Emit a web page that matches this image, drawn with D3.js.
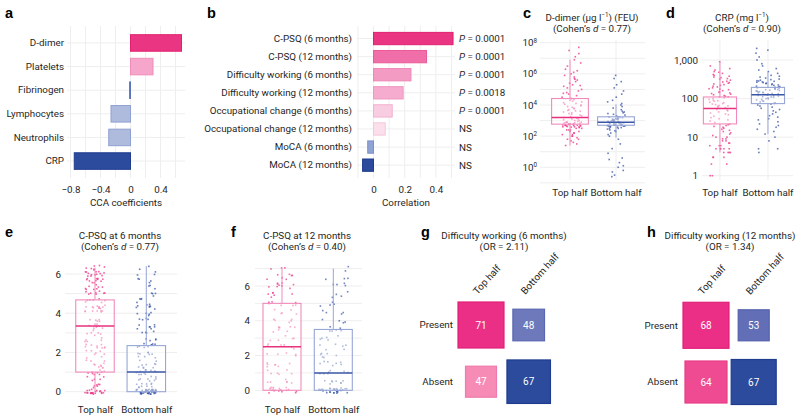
<!DOCTYPE html>
<html><head><meta charset="utf-8">
<script src="https://cdn.jsdelivr.net/npm/d3@7"></script>
<style>
body{margin:0;background:#fff}
svg{font-family:Roboto,"Noto Sans",sans-serif}
</style></head><body>
<svg id="chart" width="800" height="420"></svg>
<script>
// ---------------- DATA ----------------
const ccaCategories = ["D-dimer","Platelets","Fibrinogen","Lymphocytes","Neutrophils","CRP"];
const ccaValues = [0.68, 0.30, -0.012, -0.26, -0.29, -0.75];
const ccaTicks = [-0.8, -0.4, 0, 0.4];

const corrCategories = ["C-PSQ (6 months)","C-PSQ (12 months)","Difficulty working (6 months)","Difficulty working (12 months)","Occupational change (6 months)","Occupational change (12 months)","MoCA (6 months)","MoCA (12 months)"];
const corrValues = [0.51, 0.34, 0.24, 0.19, 0.12, 0.075, -0.037, -0.07];
const corrPValues = ["0.0001","0.0001","0.0001","0.0018","0.0001","NS","NS","NS"];
const corrTicks = [0, 0.2, 0.4];

const groups = ["Top half","Bottom half"];

// D-dimer (µg l−1), given as log10 exponents
const dDimerTopExp = [1.4,1.5,1.6,1.7,1.8,1.8,1.9,2.0,2.0,2.1,2.1,2.2,2.2,2.3,2.3,2.4,2.4,2.4,
 2.5,2.5,2.55,2.6,2.6,2.6,2.65,2.65,2.7,2.7,2.7,2.7,2.75,2.75,2.8,2.8,2.8,2.85,2.85,2.9,2.9,2.9,2.95,3.0,3.0,3.05,3.1,3.1,3.15,3.2,
 3.25,3.3,3.35,3.4,3.45,3.5,3.55,3.6,3.65,3.7,3.75,3.8,3.85,3.9,3.95,4.0,4.05,4.1,4.15,4.2,4.25,4.3,4.35,4.4,4.42,
 4.5,4.6,4.7,4.8,4.9,5.0,5.1,5.2,5.3,5.4,5.5,5.6,5.7,5.8,5.9,6.0,6.1,6.3,6.5,6.7,6.9,7.1,7.3,7.5,7.7,
 2.58,2.62,2.68,2.72,2.78,2.82,2.88,5.25,5.65,6.2,4.75,3.62];
const dDimerBottomExp = [-0.6,-0.5,-0.3,-0.2,0,0.1,0.3,0.5,0.6,0.9,1.2,1.5,1.8,2.0,2.1,2.2,2.3,2.35,
 2.4,2.45,2.5,2.5,2.55,2.6,2.6,2.65,2.65,2.7,2.7,2.72,2.75,2.75,2.78,2.8,2.8,2.82,2.85,2.85,2.87,2.88,2.9,2.9,
 2.92,2.95,2.97,3.0,3.0,3.02,3.05,3.08,3.1,3.1,3.12,3.15,3.18,3.2,3.22,3.24,
 3.3,3.35,3.4,3.45,3.5,3.55,3.6,3.7,3.8,3.9,4.0,4.1,4.2,4.3,4.5,4.7,4.9,5.1,5.3,5.5,5.7,5.9,
 2.68,2.74,2.84,2.94,3.04,2.58,2.64,3.14];
const dDimerTopBox = [590, 1580, 26000, 25, 8e6];      // q1, median, q3, whisker low, whisker high
const dDimerBottomBox = [500, 790, 1750, 80, 1.1e4];

// CRP (mg l−1)
const crpTop = [1,1,2,2,3,3,3,4,4,4,4,5,5,5,5,5,6,6,6,7,7,8,8,9,9,10,10,11,12,13,14,15,16,17,18,19,20,21,22,24,26,28,30,32,35,38,40,42,45,48,50,52,
 58,60,63,66,70,74,78,80,85,90,95,100,105,110,120,130,140,150,160,170,180,190,200,220,240,260,280,300,330,360,400,450,500,600,700,900,
 65,72,88,110,115,125,135,145,175,210,230,250,270,320,350,380,420,480,550];
const crpBottom = [4,5,5,8,10,12,14,16,18,20,22,25,28,30,33,36,40,44,48,52,56,60,64,68,72,75,78,82,85,88,92,95,98,100,104,108,112,116,120,124,128,132,136,140,145,150,155,160,165,170,175,180,185,190,195,200,210,220,230,240,250,260,270,280,290,300,320,340,360,380,400,450,500,550,600,700,800,1000,1200,1500,1800,2000,
 110,118,126,134,142,152,162,172,185,205,225,245,265,285,310];
const crpTopBox = [22, 55, 110, 4, 900];
const crpBottomBox = [74, 125, 195, 12, 480];

// C-PSQ scores: levels and number of patients at each level
const cpsq6Levels = [0,0.33,0.67,1,1.33,1.67,2,2.33,2.67,3,3.33,3.67,4,4.33,4.67,5,5.33,5.67,6,6.33];
const cpsq6TopCounts = [22,6,5,9,8,5,6,9,5,6,10,5,7,11,7,8,8,11,13,7];
const cpsq6BottomCounts = [48,10,8,11,8,5,6,9,4,4,7,4,5,8,4,4,3,4,3,2];
const cpsq6TopBox = [1.0, 3.35, 4.68, 0, 6.33];
const cpsq6BottomBox = [0, 1.0, 2.35, 0, 6.4];
const cpsq6Ticks = [0,2,4,6];

const cpsq12Levels = [0,0.5,1,1.5,2,2.5,3,3.5,4,4.5,5,5.5,6,6.5,7];
const cpsq12TopCounts = [20,6,6,7,5,7,5,8,5,5,7,6,9,7,3];
const cpsq12BottomCounts = [30,8,7,7,6,6,5,6,4,4,4,4,4,3,2];
const cpsq12TopBox = [0, 2.5, 5.0, 0, 7];
const cpsq12BottomBox = [0, 1.0, 3.5, 0, 7];
const cpsq12Ticks = [0,2,4,6];

const ctRows = ["Present","Absent"];
const diff6Counts = [[71,48],[47,67]];
const diff12Counts = [[68,53],[64,67]];

// ---------------- STYLES ----------------
const ccaFill = ["#ea3582","#f5a6ca","#6f86c6","#aebbdd","#aebbdd","#2c4b9c"];
const ccaStroke = ["#e0206f","#ef8dba","#5a74bd","#8fa0d2","#8fa0d2","#1f3c8e"];
const corrFill = ["#ea3582","#f06fa8","#f49bc4","#f5acce","#f9cde1","#fbe0ec","#8fa3d4","#2c4b9c"];
const corrStroke = ["#e0206f","#ea5a98","#ef86b6","#f096c1","#f3b0cf","#f5c6dc","#7a90ca","#1f3c8e"];
const ct6Fill = [["#ec2f86","#6e79bb"],["#f68bb6","#2c4b9c"]];
const ct12Fill = [["#ec2f86","#626eb6"],["#ef4b92","#2c4b9c"]];
const ct6Stroke = [["#e0207a","#5b67b1"],["#f07aab","#1f3c8e"]];
const ct12Stroke = [["#e0207a","#5360ad"],["#e83d86","#1f3c8e"]];
const TXT = "#1f1f1f", GRID = "#eeeeee", FS = 9.8;

const svg = d3.select("#chart");
const minus = s => s.replace("-", "\u2212");

function label(x, y, t) {
  svg.append("text").attr("x", x).attr("y", y).text(t)
    .attr("font-family", "'Liberation Sans',Arial,sans-serif").attr("font-weight", "bold")
    .attr("font-size", 14.5).attr("fill", "#000");
}
function title(cx, y, parts) {
  const t = svg.append("text").attr("x", cx).attr("y", y).attr("text-anchor", "middle")
    .attr("font-size", FS).attr("fill", TXT);
  parts.forEach(p => {
    const s = t.append("tspan").text(p.t);
    if (p.i) s.attr("font-style", "italic");
    if (p.sup) s.attr("font-size", 6.3).attr("dy", -3.6);
    if (p.down) s.attr("dy", 3.6);
  });
}
function styleAxis(g) {
  g.select(".domain").remove();
  g.selectAll(".tick line").remove();
  g.selectAll(".tick text").attr("font-size", FS).attr("fill", TXT).attr("font-family", "Roboto,'Noto Sans',sans-serif");
}

// ---------------- PANEL a ----------------
label(5, 18, "a");
{
  const x = d3.scaleLinear().domain([-0.85, 0.72]).range([66.75, 184.5]);
  const y = d3.scaleBand().domain(ccaCategories).range([27.6, 176.4]).padding(0.3);
  const g = svg.append("g");
  g.selectAll(".gv").data([-0.8,-0.6,-0.4,-0.2,0,0.2,0.4,0.6]).join("line")
    .attr("x1", d => x(d)).attr("x2", d => x(d)).attr("y1", 26).attr("y2", 178).attr("stroke", GRID);
  g.selectAll(".gh").data(ccaCategories).join("line")
    .attr("x1", 67).attr("x2", 185).attr("y1", d => y(d) + y.bandwidth()/2).attr("y2", d => y(d) + y.bandwidth()/2).attr("stroke", GRID);
  g.selectAll(".bar").data(ccaValues).join("rect")
    .attr("x", d => x(Math.min(0, d))).attr("width", d => Math.max(0.6, Math.abs(x(d) - x(0))))
    .attr("y", (d, i) => y(ccaCategories[i])).attr("height", y.bandwidth())
    .attr("fill", (d, i) => ccaFill[i]).attr("stroke", (d, i) => ccaStroke[i]).attr("stroke-width", 1);
  g.append("g").attr("transform", "translate(0,180)")
    .call(d3.axisBottom(x).tickValues(ccaTicks).tickSize(0).tickPadding(6).tickFormat(d => minus(d3.format("")(d))))
    .call(styleAxis);
  g.append("g").attr("transform", "translate(68,0)")
    .call(d3.axisLeft(y).tickSize(0).tickPadding(4)).call(styleAxis);
  g.append("text").attr("x", 126).attr("y", 206).attr("text-anchor", "middle").attr("font-size", FS).attr("fill", TXT).text("CCA coefficients");
}

// ---------------- PANEL b ----------------
label(207, 18, "b");
{
  const x = d3.scaleLinear().domain([-0.1, 0.52]).range([357.9, 454.6]);
  const y = d3.scaleBand().domain(corrCategories).range([26.6, 177.1]).padding(0.32);
  const g = svg.append("g");
  g.selectAll(".gv").data([-0.1,0,0.1,0.2,0.3,0.4,0.5]).join("line")
    .attr("x1", d => x(d)).attr("x2", d => x(d)).attr("y1", 26).attr("y2", 178).attr("stroke", GRID);
  g.selectAll(".gh").data(corrCategories).join("line")
    .attr("x1", 357).attr("x2", 455).attr("y1", d => y(d) + y.bandwidth()/2).attr("y2", d => y(d) + y.bandwidth()/2).attr("stroke", GRID);
  g.selectAll(".bar").data(corrValues).join("rect")
    .attr("x", d => x(Math.min(0, d))).attr("width", d => Math.abs(x(d) - x(0)))
    .attr("y", (d, i) => y(corrCategories[i])).attr("height", y.bandwidth())
    .attr("fill", (d, i) => corrFill[i]).attr("stroke", (d, i) => corrStroke[i]).attr("stroke-width", 1);
  g.append("g").attr("transform", "translate(0,180)")
    .call(d3.axisBottom(x).tickValues(corrTicks).tickSize(0).tickPadding(6).tickFormat(d3.format("")))
    .call(styleAxis);
  g.append("g").attr("transform", "translate(356,0)")
    .call(d3.axisLeft(y).tickSize(0).tickPadding(4)).call(styleAxis);
  corrPValues.forEach((p, i) => {
    const t = g.append("text").attr("x", 459).attr("y", y(corrCategories[i]) + y.bandwidth()/2).attr("dy", "0.35em")
      .attr("font-size", FS).attr("fill", TXT);
    if (p === "NS") t.text("NS");
    else { t.append("tspan").attr("font-style", "italic").text("P"); t.append("tspan").text(" = " + p); }
  });
  g.append("text").attr("x", 406).attr("y", 206).attr("text-anchor", "middle").attr("font-size", FS).attr("fill", TXT).text("Correlation");
}

// ---------------- helpers for box panels ----------------
// deterministic hash used only for jitter positions (not for data values)
const hash = (i, k) => { const s = Math.sin(i * 12.9898 + k * 78.233) * 43758.5453; return s - Math.floor(s); };
function jitter(g, vals, cx, yScale, jw, jh, color, op, seed) {
  g.append("g").selectAll("rect").data(vals).join("rect")
    .attr("x", (d, i) => cx + (hash(i, seed) - 0.5) * jw - 0.8)
    .attr("y", (d, i) => yScale(d) + (hash(i, seed + 1) - 0.5) * jh - 0.8)
    .attr("width", 1.6).attr("height", 1.6).attr("fill", color).attr("opacity", op);
}
function box(g, stats, cx, w, yScale, stroke, med) {
  const [q1, m, q3, lo, hi] = stats;
  g.append("line").attr("x1", cx).attr("x2", cx).attr("y1", yScale(q3)).attr("y2", yScale(hi)).attr("stroke", stroke).attr("stroke-width", 1);
  g.append("line").attr("x1", cx).attr("x2", cx).attr("y1", yScale(q1)).attr("y2", yScale(lo)).attr("stroke", stroke).attr("stroke-width", 1);
  g.append("rect").attr("x", cx - w/2).attr("y", yScale(q3)).attr("width", w).attr("height", yScale(q1) - yScale(q3))
    .attr("fill", "#fff").attr("fill-opacity", 0.45).attr("stroke", stroke).attr("stroke-width", 1.1);
  g.append("line").attr("x1", cx - w/2).attr("x2", cx + w/2).attr("y1", yScale(m)).attr("y2", yScale(m)).attr("stroke", med).attr("stroke-width", 1.5);
}
const expand = (levels, counts) => levels.flatMap((v, i) => d3.range(counts[i]).map(() => v));
const PT_PINK = "#ec2f86", PT_BLUE = "#3552a6";
const BOX_PINK = "#f28bbb", BOX_BLUE = "#97a6d6", MED_PINK = "#e9307f", MED_BLUE = "#3a56a6";

// ---------------- PANEL c ----------------
label(523, 18, "c");
title(592, 20.5, [{t: "D-dimer (\u00b5g l"}, {t: "\u22121", sup: true}, {t: ") (FEU)", down: true}]);
title(592, 31.8, [{t: "(Cohen\u2019s "}, {t: "d", i: true}, {t: " = 0.77)"}]);
{
  const y = d3.scaleLog().domain([1, 1e8]).range([167.3, 42.7]);
  const x = d3.scaleBand().domain(groups).range([542.4, 643.6]).padding(0.2);
  const g = svg.append("g");
  g.selectAll(".gh").data(d3.range(-1, 9)).join("line")
    .attr("x1", 540).attr("x2", 645).attr("y1", d => y(10 ** d)).attr("y2", d => y(10 ** d)).attr("stroke", GRID);
  g.selectAll(".gv").data(groups).join("line")
    .attr("x1", d => x(d) + x.bandwidth()/2).attr("x2", d => x(d) + x.bandwidth()/2).attr("y1", 40).attr("y2", 180).attr("stroke", GRID);
  const cT = x("Top half") + x.bandwidth()/2, cB = x("Bottom half") + x.bandwidth()/2;
  jitter(g, dDimerTopExp.map(e => 10 ** e), cT + 2, y, 20, 0, PT_PINK, 0.75, 1);
  jitter(g, dDimerBottomExp.map(e => 10 ** e), cB, y, 18, 0, PT_BLUE, 0.75, 3);
  box(g, dDimerTopBox, cT, x.bandwidth(), y, BOX_PINK, MED_PINK);
  box(g, dDimerBottomBox, cB, x.bandwidth(), y, BOX_BLUE, MED_BLUE);
  g.append("g").attr("transform", "translate(537,0)")
    .call(d3.axisLeft(y).tickValues([1, 1e2, 1e4, 1e6, 1e8]).tickSize(0).tickPadding(0).tickFormat(() => ""))
    .call(styleAxis)
    .call(a => a.selectAll(".tick text").each(function (d) {
      const t = d3.select(this);
      t.append("tspan").text("10");
      t.append("tspan").attr("font-size", 6.3).attr("dy", "-0.55em").text(Math.round(Math.log10(d)));
    }));
  g.append("g").attr("transform", "translate(0,186)")
    .call(d3.axisBottom(x).tickSize(0).tickPadding(3)).call(styleAxis);
}

// ---------------- PANEL d ----------------
label(666, 18, "d");
title(742, 20.5, [{t: "CRP (mg l"}, {t: "\u22121", sup: true}, {t: ")", down: true}]);
title(742, 31.8, [{t: "(Cohen\u2019s "}, {t: "d", i: true}, {t: " = 0.90)"}]);
{
  const y = d3.scaleLog().domain([1, 1000]).range([175.7, 60]);
  const x = d3.scaleBand().domain(groups).range([688.5, 799.4]).padding(0.31);
  const g = svg.append("g");
  g.selectAll(".gh").data([1, 10, 100, 1000]).join("line")
    .attr("x1", 702).attr("x2", 793).attr("y1", d => y(d)).attr("y2", d => y(d)).attr("stroke", GRID);
  g.selectAll(".gv").data(groups).join("line")
    .attr("x1", d => x(d) + x.bandwidth()/2).attr("x2", d => x(d) + x.bandwidth()/2).attr("y1", 40).attr("y2", 180).attr("stroke", GRID);
  const cT = x("Top half") + x.bandwidth()/2, cB = x("Bottom half") + x.bandwidth()/2;
  jitter(g, crpTop, cT, y, 22, 0, PT_PINK, 0.75, 5);
  jitter(g, crpBottom, cB, y, 24, 0, PT_BLUE, 0.75, 7);
  box(g, crpTopBox, cT, x.bandwidth(), y, BOX_PINK, MED_PINK);
  box(g, crpBottomBox, cB, x.bandwidth(), y, BOX_BLUE, MED_BLUE);
  g.append("g").attr("transform", "translate(700,0)")
    .call(d3.axisLeft(y).tickValues([1, 10, 100, 1000]).tickSize(0).tickPadding(2).tickFormat(d3.format(",")))
    .call(styleAxis);
  g.append("g").attr("transform", "translate(0,186)")
    .call(d3.axisBottom(x).tickSize(0).tickPadding(3)).call(styleAxis);
}

// ---------------- PANEL e ----------------
label(5, 237, "e");
title(120, 238.5, [{t: "C-PSQ at 6 months"}]);
title(120, 249.5, [{t: "(Cohen\u2019s "}, {t: "d", i: true}, {t: " = 0.77)"}]);
{
  const y = d3.scaleLinear().domain([0, 6]).range([391.7, 274]);
  const x = d3.scalePoint().domain(groups).range([95, 146.3]);
  const w = 38.5;
  const g = svg.append("g");
  g.selectAll(".gh").data(d3.range(0, 7)).join("line")
    .attr("x1", 65).attr("x2", 177).attr("y1", d => y(d)).attr("y2", d => y(d)).attr("stroke", GRID);
  jitter(g, expand(cpsq6Levels, cpsq6TopCounts), x("Top half"), y, 20, 5, PT_PINK, 0.75, 9);
  jitter(g, expand(cpsq6Levels, cpsq6BottomCounts), x("Bottom half"), y, 20, 5, PT_BLUE, 0.75, 11);
  box(g, cpsq6TopBox, x("Top half"), w, y, BOX_PINK, MED_PINK);
  box(g, cpsq6BottomBox, x("Bottom half"), w, y, BOX_BLUE, MED_BLUE);
  g.append("g").attr("transform", "translate(63,0)")
    .call(d3.axisLeft(y).tickValues(cpsq6Ticks).tickSize(0).tickPadding(2).tickFormat(d3.format("d"))).call(styleAxis);
  g.append("g").attr("transform", "translate(0,403)")
    .call(d3.axisBottom(x).tickSize(0).tickPadding(3)).call(styleAxis);
}

// ---------------- PANEL f ----------------
label(231, 237, "f");
title(307, 238.5, [{t: "C-PSQ at 12 months"}]);
title(307, 249.5, [{t: "(Cohen\u2019s "}, {t: "d", i: true}, {t: " = 0.40)"}]);
{
  const y = d3.scaleLinear().domain([0, 6]).range([390.3, 286]);
  const x = d3.scalePoint().domain(groups).range([282, 333.3]);
  const w = 38;
  const g = svg.append("g");
  g.selectAll(".gh").data(d3.range(0, 8)).join("line")
    .attr("x1", 255).attr("x2", 362).attr("y1", d => y(d)).attr("y2", d => y(d)).attr("stroke", GRID);
  jitter(g, expand(cpsq12Levels, cpsq12TopCounts), x("Top half"), y, 30, 6, PT_PINK, 0.7, 13);
  jitter(g, expand(cpsq12Levels, cpsq12BottomCounts), x("Bottom half"), y, 30, 6, PT_BLUE, 0.7, 15);
  box(g, cpsq12TopBox, x("Top half"), w, y, BOX_PINK, MED_PINK);
  box(g, cpsq12BottomBox, x("Bottom half"), w, y, BOX_BLUE, MED_BLUE);
  g.append("g").attr("transform", "translate(252,0)")
    .call(d3.axisLeft(y).tickValues(cpsq12Ticks).tickSize(0).tickPadding(2).tickFormat(d3.format("d"))).call(styleAxis);
  g.append("g").attr("transform", "translate(0,403)")
    .call(d3.axisBottom(x).tickSize(0).tickPadding(3)).call(styleAxis);
}

// ---------------- PANELS g, h ----------------
function contingency(colRange, rowRange, counts, fills, strokes) {
  const x = d3.scalePoint().domain(groups).range(colRange);
  const y = d3.scalePoint().domain(ctRows).range(rowRange);
  const s = d3.scaleLinear().domain(d3.extent(counts.flat())).range([31, 46]);
  const g = svg.append("g");
  ctRows.forEach((r, ri) => groups.forEach((c, ci) => {
    const v = counts[ri][ci], sz = s(v);
    g.append("rect").attr("x", x(c) - sz/2).attr("y", y(r) - sz/2).attr("width", sz).attr("height", sz)
      .attr("fill", fills[ri][ci]).attr("stroke", strokes[ri][ci]).attr("stroke-width", 1.2);
    g.append("text").attr("x", x(c)).attr("y", y(r)).attr("dy", "0.35em").attr("text-anchor", "middle")
      .attr("font-size", FS + 0.2).attr("fill", "#fff").text(v);
  }));
  ctRows.forEach(r => g.append("text").attr("x", colRange[0] - 28).attr("y", y(r)).attr("dy", "0.35em")
    .attr("text-anchor", "end").attr("font-size", FS).attr("fill", TXT).text(r));
  groups.forEach(c => g.append("text").attr("transform", `translate(${x(c) - 3.5},${rowRange[0] - 30}) rotate(-48)`)
    .attr("font-size", FS).attr("fill", TXT).text(c));
}
label(421, 237, "g");
title(504, 238.5, [{t: "Difficulty working (6 months)"}]);
title(504, 249.5, [{t: "(OR = 2.11)"}]);
contingency([481, 528.7], [325, 381.7], diff6Counts, ct6Fill, ct6Stroke);

label(647, 237, "h");
title(730, 238.5, [{t: "Difficulty working (12 months)"}]);
title(730, 249.5, [{t: "(OR = 1.34)"}]);
contingency([706, 753.7], [325.3, 382], diff12Counts, ct12Fill, ct12Stroke);
</script>
</body></html>
